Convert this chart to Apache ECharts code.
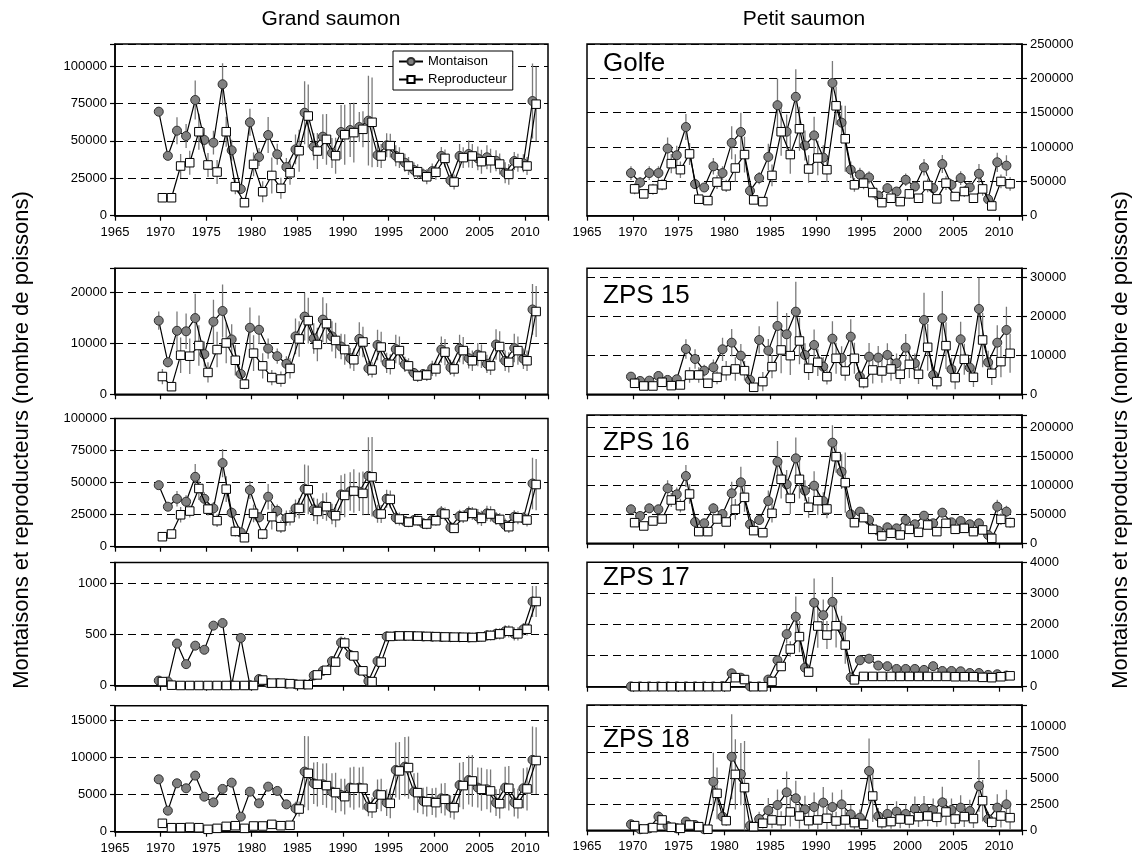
<!DOCTYPE html>
<html>
<head>
<meta charset="utf-8">
<script src="https://cdn.jsdelivr.net/npm/echarts@6/dist/echarts.min.js"></script>
<style>html,body{margin:0;padding:0;background:#fff}#c{width:1142px;height:858px}</style>
</head>
<body>
<div id="c"></div>
<script>
// ---------------- DATA ----------------
const years = [1970,1971,1972,1973,1974,1975,1976,1977,1978,1979,1980,1981,1982,1983,1984,1985,1986,1987,1988,1989,1990,1991,1992,1993,1994,1995,1996,1997,1998,1999,2000,2001,2002,2003,2004,2005,2006,2007,2008,2009,2010,2011];
const xTicks = [1965,1970,1975,1980,1985,1990,1995,2000,2005,2010];
const panelLabels = ['Golfe','ZPS 15','ZPS 16','ZPS 17','ZPS 18'];
const columnTitles = ['Grand saumon','Petit saumon'];
const yTitle = 'Montaisons et reproducteurs (nombre de poissons)';
const legendNames = ['Montaison','Reproducteur'];

// Grand saumon - Golfe
const grandGolfeMont = [69500,40000,56800,53200,77300,50600,48800,87800,43700,17800,62400,39200,53900,41000,32500,44300,68800,46100,52800,41900,55900,57200,59200,63500,40500,47000,40000,35400,30500,27600,29800,39900,23600,39900,41200,38300,39000,36700,28700,36500,35000,76600];
const grandGolfeRepr = [12000,12000,33200,35400,56100,33900,29200,56100,19400,8700,34300,16000,26900,18300,28700,43400,66600,43200,51000,40100,54100,55500,57700,62400,39900,46800,38800,33200,29400,26000,29000,38300,22500,38800,39900,36100,36700,34500,27600,35400,33200,74500];
const grandGolfeErrM = [3000,3000,9000,8000,13000,8000,8000,14000,7000,3000,9000,6000,12000,7000,6000,10000,21000,9000,15000,10000,18000,18000,10000,30000,8000,8000,7000,6000,5000,4000,5000,6000,4000,8000,9000,8000,8000,7000,7000,6000,6000,25000];
const grandGolfeErrR = [1000,1000,8000,8000,12000,8000,8000,10000,5000,2000,8000,7000,12000,7000,8000,14000,21000,12000,17000,12000,20000,20000,12000,30000,8000,8000,7000,6000,5000,5000,5000,6000,5000,7000,8000,8000,8000,7000,7000,6000,6000,25000];

// Grand saumon - ZPS 15
const grand15Mont = [14500,6300,12500,12400,15000,7900,14300,16400,10800,4000,13100,12700,9000,7500,6000,11400,15300,11000,14700,11400,9400,7100,10900,5100,9700,6200,8900,5900,4200,4000,5100,8800,5300,9000,7100,7800,6000,9800,6600,9100,7000,16700];
const grand15Repr = [3500,1500,7700,7500,9600,4300,8800,10100,6700,2000,8100,5600,3300,3000,5100,10900,14500,9800,13900,10600,8800,6800,10300,4800,9300,5900,8600,5600,3600,3800,5000,8300,5000,8600,6600,7500,5600,9400,6300,8600,6600,16300];
const grand15ErrM = [1800,1000,3800,3500,4800,2500,4300,5200,3000,1000,4000,2800,2000,1500,1500,3500,4700,3000,4400,3000,2500,2000,3300,1500,3000,2000,2800,1500,1000,1000,1500,2600,1500,2700,2000,2300,1800,3000,2000,2800,2000,5000];
const grand15ErrR = [1500,600,3500,3500,4000,2000,3500,4000,3000,1000,3500,2500,1500,1500,2000,3500,4500,3300,4000,3500,3000,2200,3000,1500,3000,2000,2800,1500,1200,1200,1500,2600,1500,2700,2000,2300,1800,3000,2000,2800,2000,5000];

// Grand saumon - ZPS 16
const grand16Mont = [48000,31200,37400,35100,54500,37400,29900,65200,26500,11200,44200,22900,39000,28000,22300,29900,45200,29100,31700,25500,40800,43100,42900,55300,25700,37400,22600,20000,20800,18200,20800,26700,15100,23900,26500,23400,26000,22100,16900,23400,22100,49300];
const grand16Repr = [7800,9900,24900,27800,45400,29300,20300,44900,11900,7000,26000,9900,23400,15600,22600,29900,44400,27500,31200,24200,40000,43400,41600,54500,25500,36900,21600,19200,20300,17700,20300,25500,14300,23400,26000,22100,25500,21300,15600,22600,20800,48500];
const grand16ErrM = [2000,2000,6000,5000,10000,5000,5000,11000,4000,2000,7000,4000,10000,5000,6000,7000,19000,9000,10000,8000,15000,15000,15000,30000,7000,7000,5000,4000,4000,4000,4000,5000,3000,5000,5000,6000,6000,5000,5000,5000,5000,20000];
const grand16ErrR = [1000,2000,6000,5000,9000,5000,5000,10000,4000,2000,7000,4000,10000,5000,6000,8000,19000,10000,11000,9000,17000,17000,17000,31000,7000,7000,5000,4000,4000,4000,4000,5000,3000,5000,5000,6000,6000,5000,5000,5000,5000,20000];

// Grand saumon - ZPS 17
const grand17Mont = [50,40,410,210,390,350,585,610,5,465,5,65,25,25,20,15,12,100,145,240,420,300,150,45,240,480,485,485,483,480,478,475,473,472,470,475,490,505,530,505,550,820];
const grand17Repr = [40,5,2,2,2,2,2,2,2,2,2,55,25,25,20,12,10,105,150,230,415,290,145,40,230,480,485,485,483,480,478,475,473,472,470,475,490,505,530,505,550,820];
const grand17ErrM = [0,0,0,0,0,0,0,0,0,0,0,5,3,3,3,2,2,15,20,30,60,40,20,10,30,45,45,45,45,45,45,45,45,45,45,45,50,55,60,65,60,150];
const grand17ErrR = [0,0,0,0,0,0,0,0,0,0,0,5,3,3,3,2,2,15,20,30,60,40,20,10,30,45,45,45,45,45,45,45,45,45,45,45,50,55,60,65,60,150];

// Grand saumon - ZPS 18
const grand18Mont = [7070,2840,6530,5860,7570,4730,3960,5770,6620,2030,5400,3830,6080,5500,3690,3150,8110,6530,6400,5400,4960,5950,5950,3380,5050,3920,8330,8780,5400,4140,4050,4500,3380,6300,6980,5950,5720,3920,5950,3960,5860,9690];
const grand18Repr = [1130,540,540,590,540,320,450,720,810,450,770,770,990,810,860,3060,7880,6400,6220,5270,4730,5860,5860,3240,4960,3830,8200,8650,5270,4050,3920,4370,3240,6220,6850,5720,5500,3780,5860,3780,5770,9600];
const grand18ErrM = [400,100,300,300,300,200,200,300,300,100,300,200,300,300,200,900,4800,2800,2800,2500,2200,2700,2700,1300,2000,1800,3700,4000,2500,1800,1800,2000,1500,3000,3300,2700,2700,1800,2800,1900,2700,4500];
const grand18ErrR = [500,150,150,150,150,150,150,200,200,150,200,200,250,200,200,1000,5000,3000,3000,2700,2400,2900,2900,1400,2200,2000,3900,4200,2700,2000,2000,2200,1600,3200,3500,2900,2900,2000,3000,2000,2900,4500];

// Petit saumon - Golfe
const petitGolfeMont = [62100,48400,62100,62100,97800,88000,129100,46000,41100,71900,62100,106100,121800,36200,54800,85600,160900,122300,173100,102200,116900,84600,193200,135500,67000,59700,55700,29300,40100,35200,52300,42500,70400,40100,75300,45000,54800,41100,61100,24000,77800,72900];
const petitGolfeRepr = [39100,31800,38600,45000,75800,67000,90000,24000,22000,48900,43500,69400,89000,23000,20500,58700,122300,89000,126600,68000,84000,67000,160000,112000,45000,47400,33700,19000,25400,20500,31800,25400,44000,24500,47400,27900,35200,25400,39000,14200,49900,46500];
const petitGolfeErrM = [10000,8000,10000,10000,16000,14000,19000,7000,6000,12000,10000,24000,28000,6000,9000,19000,39000,25000,40000,22000,27000,18000,32000,25000,12000,10000,9000,5000,7000,6000,9000,7000,12000,7000,13000,8000,10000,7000,14000,5000,14000,15000];
const petitGolfeErrR = [8000,6000,8000,8000,14000,12000,16000,5000,5000,10000,9000,20000,26000,5000,5000,16000,35000,28000,32000,20000,25000,18000,28000,48000,10000,9000,7000,4000,5000,4000,7000,5000,10000,5000,10000,6000,8000,5000,10000,3000,10000,10000];

// Petit saumon - ZPS 15
const petit15Mont = [4540,3430,3510,4710,3690,3860,11650,9080,6080,6940,11570,13280,9940,3690,13970,11230,17570,15430,21250,10110,12680,7110,14310,9340,14830,4540,9680,9430,10110,7970,12000,7970,19110,4970,19540,6430,14140,6860,21940,8230,13280,16540];
const petit15Repr = [2830,2140,2140,3090,2230,2400,4970,4970,2830,4370,6080,6510,6080,1800,3260,7110,11400,9940,13710,6680,8230,4540,9260,6000,9260,3000,6260,6000,6510,5140,7710,5140,12080,3260,12510,4280,9000,4370,13970,5400,8400,10540];
const petit15ErrM = [1000,800,800,1200,800,800,2500,2500,1500,2000,3000,3500,3000,1000,3500,3000,6300,5500,7700,3000,4000,2500,4500,3000,4500,1500,3500,3000,3000,2500,3500,2500,7000,2000,7000,3000,4500,2500,8000,3000,4500,6000];
const petit15ErrR = [800,600,600,900,600,600,2000,2000,1200,1800,2500,3000,2500,800,2500,3000,6000,5000,6000,3000,3500,2000,4000,2500,4000,1500,3500,3000,3000,2500,3500,2500,6000,2000,6000,3000,4000,2500,7000,3000,4000,5000];

// Petit saumon - ZPS 16
const petit16Mont = [58800,47300,60500,58800,95100,84700,116400,36900,34600,60500,50700,86500,105500,32900,40300,73200,141200,102000,147000,91100,99700,73200,174100,123900,50100,54800,40300,21900,27700,25900,40300,32900,47800,34600,53000,36300,38600,32900,34600,14400,63400,54800];
const petit16Repr = [35700,30000,38600,42100,74900,65100,85300,20200,20200,42100,36900,58800,79500,21900,18400,51900,110700,77800,110700,62300,73800,59400,149900,104900,35700,44400,24200,12700,17300,14400,24200,19000,31700,20200,34600,24200,25900,20200,23100,8600,41500,35700];
const petit16ErrM = [8000,6000,8000,8000,14000,12000,19000,5000,5000,9000,7000,20000,27000,5000,6000,18000,36000,25000,36000,18000,25000,15000,30000,30000,7000,7000,6000,3000,4000,4000,6000,5000,7000,5000,8000,5000,6000,5000,6000,3000,12000,10000];
const petit16ErrR = [7000,5000,7000,7000,12000,12000,17000,4000,4000,8000,7000,18000,25000,4000,5000,16000,33000,27000,33000,18000,25000,16000,28000,52000,6000,6000,5000,3000,3000,3000,5000,4000,6000,4000,7000,4000,5000,4000,5000,2000,10000,9000];

// Petit saumon - ZPS 17
const petit17Mont = [10,10,10,10,10,10,10,10,10,10,20,430,290,10,10,230,850,1690,2250,610,2700,2300,2730,1880,300,850,900,680,660,570,570,570,540,660,505,505,495,440,440,380,400,360];
const petit17Repr = [0,0,0,0,0,0,0,0,0,0,0,290,230,0,0,170,650,1210,1610,470,1950,1660,1960,1340,220,330,330,330,330,330,330,330,330,330,330,320,320,320,300,290,320,350];
const petit17ErrM = [0,0,0,0,0,0,0,0,0,0,0,50,40,0,0,40,150,300,650,150,780,500,800,400,60,80,80,60,60,50,50,50,50,60,50,50,50,40,40,40,40,40];
const petit17ErrR = [0,0,0,0,0,0,0,0,0,0,0,40,30,0,0,30,120,250,500,120,700,450,700,600,40,30,30,30,30,30,30,30,30,30,30,30,30,30,30,30,30,30];

// Petit saumon - ZPS 18
const petit18Mont = [580,100,190,1320,420,190,840,510,100,4690,1320,7100,5430,450,1090,1930,2440,3670,3090,2030,2250,2670,2250,2510,1540,1220,5720,1350,1580,1800,1580,2060,2120,1960,2700,1960,2190,1860,4280,1090,2190,2510];
const petit18Repr = [450,130,260,1000,290,190,510,350,100,3570,930,5400,4120,350,680,1000,930,1770,1380,930,1000,1160,900,1000,740,580,3310,740,840,1090,1000,1320,1380,1250,1770,1090,1320,1130,2860,770,1380,1220];
const petit18ErrM = [200,50,100,500,150,100,300,200,50,2800,600,4100,3000,200,700,1200,1500,2000,1700,1300,1400,1500,1400,1400,900,800,3150,800,900,1000,900,1200,1200,1100,1500,1100,1200,1100,2500,700,1300,1400];
const petit18ErrR = [150,50,100,400,100,80,200,150,50,2500,500,3400,4500,150,500,800,900,1400,1200,900,1000,1100,900,1000,700,500,2500,600,700,900,800,1000,1000,900,1300,900,1000,900,2000,600,1100,1200];

// y-axis tick intervals per panel
const yIntervals = [[25000,10000,25000,500,5000],[50000,10000,50000,1000,2500]];

// ---------------- LAYOUT / STYLE ----------------
const FONT = "'Liberation Sans', Arial, Helvetica, sans-serif";
const colLeft = [115, 587];
const colWidth = [433, 435];
const rowBoxes = [
  [[44,171.7],[268.3,126],[418.5,128.2],[562.5,123.2],[705.7,126]],
  [[44,171.7],[268.3,126],[415,128.3],[562.3,124.4],[705,125.3]]
];
const yMaxes = [[114700,24800,100000,1200,17000],[250000,32400,222000,4000,12100]];
const labelY = [64, 296, 442.5, 578, 740];

const panels = [
  [[grandGolfeMont,grandGolfeRepr,grandGolfeErrM,grandGolfeErrR],
   [grand15Mont,grand15Repr,grand15ErrM,grand15ErrR],
   [grand16Mont,grand16Repr,grand16ErrM,grand16ErrR],
   [grand17Mont,grand17Repr,grand17ErrM,grand17ErrR],
   [grand18Mont,grand18Repr,grand18ErrM,grand18ErrR]],
  [[petitGolfeMont,petitGolfeRepr,petitGolfeErrM,petitGolfeErrR],
   [petit15Mont,petit15Repr,petit15ErrM,petit15ErrR],
   [petit16Mont,petit16Repr,petit16ErrM,petit16ErrR],
   [petit17Mont,petit17Repr,petit17ErrM,petit17ErrR],
   [petit18Mont,petit18Repr,petit18ErrM,petit18ErrR]]
];

const grids = [], xAxes = [], yAxes = [], series = [], graphics = [];
const OFF = 0.2; // horizontal offset of the two series (in years)

function errRender(params, api) {
  const x = api.value(0), y = api.value(1), e = api.value(2);
  if (!e) return null;
  const p1 = api.coord([x, y - e]);
  const p2 = api.coord([x, y + e]);
  return {type:'line', shape:{x1:p1[0], y1:p1[1], x2:p2[0], y2:p2[1]},
          style:{stroke:'#7a7a7a', lineWidth:1.3}};
}

let gi = 0;
for (let c = 0; c < 2; c++) {
  for (let r = 0; r < 5; r++) {
    const [top, h] = rowBoxes[c][r];
    grids.push({left: colLeft[c], top: top, width: colWidth[c], height: h,
      show: true, borderColor:'#000', borderWidth:1.5, backgroundColor:'transparent', containLabel:false});
    const showX = (r === 0 || r === 4);
    xAxes.push({type:'value', gridIndex: gi, min: 1965, max: 2012.5, interval: 5,
      axisLine:{show:true, onZero:false, lineStyle:{color:'#000', width:1.5}},
      axisTick:{show:true, length:5, lineStyle:{color:'#000', width:1.2}},
      axisLabel:{show: showX, margin: 10, color:'#000', fontFamily: FONT, fontSize: 13,
        formatter: v => (xTicks.indexOf(v) >= 0 ? String(v) : '')},
      splitLine:{show:false}});
    const iv = yIntervals[c][r];
    yAxes.push({type:'value', gridIndex: gi, min: 0, max: yMaxes[c][r], interval: iv,
      position: c === 0 ? 'left' : 'right',
      axisLine:{show:true, lineStyle:{color:'#000', width:1.5}},
      axisTick:{show:true, length:5, lineStyle:{color:'#000', width:1.2}},
      axisLabel:{margin: 8, color:'#000', fontFamily: FONT, fontSize: 13,
        formatter: v => (Math.abs(v / iv - Math.round(v / iv)) < 1e-9 ? String(v) : '')},
      splitLine:{show:true, lineStyle:{color:'#000', width:1, type:[8,5]}}});

    const [mont, repr, eM, eR] = panels[c][r];
    const mData = years.map((yr, i) => [yr - OFF, mont[i], eM[i]]);
    const rData = years.map((yr, i) => [yr + OFF, repr[i], eR[i]]);
    series.push({type:'custom', xAxisIndex: gi, yAxisIndex: gi, data: mData, renderItem: errRender, clip: true, z: 1, silent:true});
    series.push({type:'custom', xAxisIndex: gi, yAxisIndex: gi, data: rData, renderItem: errRender, clip: true, z: 1, silent:true});
    series.push({type:'line', name: legendNames[0], xAxisIndex: gi, yAxisIndex: gi,
      data: mData.map(d => [d[0], d[1]]), symbol:'circle', symbolSize: 9, showAllSymbol: true,
      lineStyle:{color:'#000', width:1.2}, itemStyle:{color:'#808080', borderColor:'#303030', borderWidth:1},
      z: 3, clip: true});
    series.push({type:'line', name: legendNames[1], xAxisIndex: gi, yAxisIndex: gi,
      data: rData.map(d => [d[0], d[1]]), symbol:'rect', symbolSize: 8.5, showAllSymbol: true,
      lineStyle:{color:'#000', width:1.2}, itemStyle:{color:'#fff', borderColor:'#000', borderWidth:1},
      z: 4, clip: true});

    if (c === 1) {
      graphics.push({type:'text', x: 603, y: labelY[r], z: 10,
        style:{text: panelLabels[r], font: '26px ' + FONT, fill:'#000', align:'left', verticalAlign:'middle', textVerticalAlign:'middle'}});
    }
    gi++;
  }
}

graphics.push({type:'text', x: 331, y: 19, style:{text: columnTitles[0], font:'21px ' + FONT, fill:'#000', align:'center', verticalAlign:'middle', textAlign:'center', textVerticalAlign:'middle'}});
graphics.push({type:'text', x: 804, y: 19, style:{text: columnTitles[1], font:'21px ' + FONT, fill:'#000', align:'center', verticalAlign:'middle', textAlign:'center', textVerticalAlign:'middle'}});
graphics.push({type:'text', x: 22, y: 440, rotation: Math.PI/2, style:{text: yTitle, font:'22px ' + FONT, fill:'#000', align:'center', verticalAlign:'middle', textAlign:'center', textVerticalAlign:'middle'}});
graphics.push({type:'text', x: 1121, y: 440, rotation: Math.PI/2, style:{text: yTitle, font:'22px ' + FONT, fill:'#000', align:'center', verticalAlign:'middle', textAlign:'center', textVerticalAlign:'middle'}});

const chart = echarts.init(document.getElementById('c'), null, {renderer:'canvas'});
chart.setOption({
  animation: false,
  backgroundColor: '#fff',
  grid: grids, xAxis: xAxes, yAxis: yAxes, series: series,
  legend: {data: legendNames, orient:'vertical', left: 393, top: 51, itemGap: 5,
    itemWidth: 24, itemHeight: 9, padding:[4,6,4,5], selectedMode:false,
    borderColor:'#000', borderWidth:1, backgroundColor:'#fff',
    textStyle:{color:'#000', fontFamily: FONT, fontSize: 13}},
  graphic: graphics
});
</script>
</body>
</html>
